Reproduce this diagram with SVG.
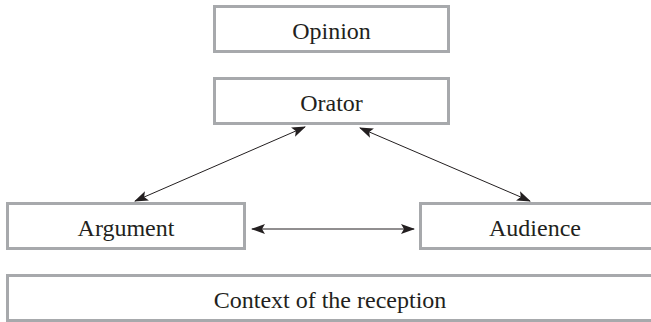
<svg xmlns="http://www.w3.org/2000/svg" width="651" height="322" viewBox="0 0 651 322">
<style>
.box{fill:#fff;stroke:#a7a9ac;stroke-width:3}
.lbl{font-family:"Liberation Serif","DejaVu Serif",serif;font-size:24px;fill:#231f20;text-anchor:middle}
.con{stroke:#231f20;stroke-width:1;fill:none;marker-start:url(#ah);marker-end:url(#ah)}
</style>
<defs>
<marker id="ah" viewBox="0 0 14 10" refX="13" refY="5" markerWidth="14" markerHeight="10" markerUnits="userSpaceOnUse" orient="auto-start-reverse">
<path d="M0,0 L14,5 L0,10 L3,5 Z" fill="#231f20"/>
</marker>
</defs>
<rect width="651" height="322" fill="#fff"/>
<g id="opinion"><rect class="box" x="214.5" y="6.5" width="234" height="45"/><text class="lbl" x="331.5" y="39">Opinion</text></g>
<g id="orator"><rect class="box" x="214.5" y="78.5" width="234" height="45"/><text class="lbl" x="331.5" y="111">Orator</text></g>
<g id="argument"><rect class="box" x="7.5" y="203.5" width="237" height="45"/><text class="lbl" x="126" y="236">Argument</text></g>
<g id="audience"><rect class="box" x="420.5" y="203.5" width="233" height="45"/><text class="lbl" x="535" y="236">Audience</text></g>
<g id="context"><rect class="box" x="7.5" y="275.5" width="646" height="45"/><text class="lbl" x="330" y="308">Context of the reception</text></g>
<g id="connectors">
<line class="con" x1="135" y1="201" x2="305" y2="127"/>
<line class="con" x1="360" y1="128" x2="530" y2="201"/>
<line class="con" x1="252" y1="229" x2="414" y2="229"/>
</g>
</svg>
